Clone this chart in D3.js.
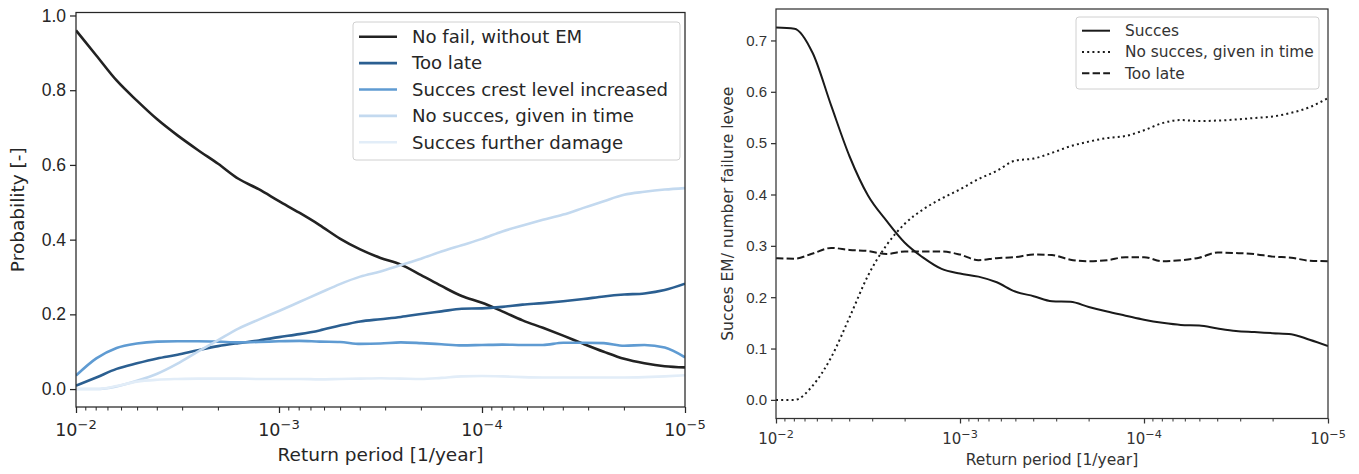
<!DOCTYPE html>
<html>
<head>
<meta charset="utf-8">
<script src="https://cdn.jsdelivr.net/npm/d3@7"></script>
<style>
  body { margin: 0; background: #fff; }
  svg { display: block; font-family: "DejaVu Sans", sans-serif; }
</style>
</head>
<body>
<svg id="chart" width="1359" height="474"></svg>
<script>
// Return period grid, as powers of ten (1/year)
const exponents = [-2.0, -2.1, -2.2, -2.3, -2.4, -2.5, -2.6, -2.7, -2.8, -2.9,
                   -3.0, -3.1, -3.2, -3.3, -3.4, -3.5, -3.6, -3.7, -3.8, -3.9,
                   -4.0, -4.1, -4.2, -4.3, -4.4, -4.5, -4.6, -4.7, -4.8, -4.9, -5.0];

// Left panel: probability of each outcome
const noFailWithoutEM = [0.960, 0.893, 0.826, 0.772, 0.722, 0.679, 0.640, 0.603, 0.563, 0.535,
                         0.503, 0.472, 0.439, 0.403, 0.374, 0.351, 0.333, 0.305, 0.276, 0.249,
                         0.231, 0.208, 0.184, 0.164, 0.143, 0.121, 0.100, 0.081, 0.069, 0.061, 0.058];
const tooLate = [0.009, 0.031, 0.054, 0.069, 0.082, 0.092, 0.104, 0.115, 0.123, 0.130,
                 0.139, 0.147, 0.157, 0.170, 0.181, 0.187, 0.193, 0.201, 0.208, 0.215,
                 0.216, 0.220, 0.226, 0.230, 0.235, 0.241, 0.248, 0.253, 0.256, 0.265, 0.282];
const succesCrestLevel = [0.036, 0.082, 0.110, 0.122, 0.127, 0.128, 0.128, 0.127, 0.125, 0.126,
                          0.128, 0.129, 0.127, 0.126, 0.121, 0.122, 0.125, 0.123, 0.120, 0.117,
                          0.118, 0.119, 0.118, 0.118, 0.124, 0.124, 0.123, 0.116, 0.118, 0.111, 0.085];
const noSuccesInTime = [0.000, 0.000, 0.007, 0.022, 0.041, 0.068, 0.100, 0.131, 0.162, 0.186,
                        0.209, 0.233, 0.257, 0.281, 0.301, 0.315, 0.332, 0.349, 0.368, 0.385,
                        0.402, 0.422, 0.438, 0.453, 0.467, 0.485, 0.503, 0.520, 0.528, 0.534, 0.538];
const succesFurtherDamage = [0.000, 0.000, 0.008, 0.020, 0.025, 0.027, 0.028, 0.028, 0.028, 0.027,
                             0.027, 0.027, 0.026, 0.027, 0.028, 0.029, 0.028, 0.027, 0.030, 0.034,
                             0.035, 0.034, 0.032, 0.031, 0.031, 0.031, 0.031, 0.031, 0.032, 0.034, 0.037];

// Right panel: emergency-measure outcome per levee failure
const succesRatio = [0.725, 0.723, 0.675, 0.573, 0.474, 0.398, 0.349, 0.306, 0.277, 0.255,
                     0.246, 0.240, 0.229, 0.211, 0.202, 0.192, 0.191, 0.181, 0.172, 0.164,
                     0.156, 0.150, 0.146, 0.145, 0.139, 0.134, 0.132, 0.130, 0.128, 0.117, 0.105];
const noSuccesRatio = [0.000, 0.000, 0.028, 0.083, 0.161, 0.242, 0.301, 0.343, 0.371, 0.392,
                       0.410, 0.430, 0.446, 0.466, 0.470, 0.481, 0.494, 0.503, 0.510, 0.514,
                       0.525, 0.539, 0.545, 0.543, 0.544, 0.546, 0.549, 0.552, 0.559, 0.570, 0.588];
const tooLateRatio = [0.276, 0.275, 0.285, 0.296, 0.292, 0.290, 0.284, 0.289, 0.289, 0.289,
                      0.283, 0.272, 0.276, 0.278, 0.283, 0.282, 0.273, 0.270, 0.272, 0.278,
                      0.278, 0.270, 0.272, 0.277, 0.287, 0.286, 0.284, 0.279, 0.277, 0.271, 0.270];

// Axis ticks and labels
const xTickExponents = [-2, -3, -4, -5];
const leftYTicks = [0.0, 0.2, 0.4, 0.6, 0.8, 1.0];
const rightYTicks = [0.0, 0.1, 0.2, 0.3, 0.4, 0.5, 0.6, 0.7];
const leftLabels = ["No fail, without EM", "Too late", "Succes crest level increased",
                    "No succes, given in time", "Succes further damage"];
const rightLabels = ["Succes", "No succes, given in time", "Too late"];

const returnPeriods = exponents.map(e => Math.pow(10, e));
const svg = d3.select("#chart");

function drawPanel(cfg) {
  const x = d3.scaleLog().domain([1e-2, 1e-5]).range([cfg.left, cfg.right]);
  const y = d3.scaleLinear().domain(cfg.yDomain).range([cfg.bottom, cfg.top]);
  const g = svg.append("g");

  const clipId = "clip-" + cfg.id;
  g.append("clipPath").attr("id", clipId)
    .append("rect")
    .attr("x", cfg.left).attr("y", cfg.top)
    .attr("width", cfg.right - cfg.left).attr("height", cfg.bottom - cfg.top);

  // series lines
  const line = d3.line()
    .x((d, i) => x(returnPeriods[i]))
    .y(d => y(d))
    .curve(d3.curveMonotoneX);
  const lines = g.append("g").attr("clip-path", `url(#${clipId})`);
  cfg.series.forEach(s => {
    lines.append("path")
      .datum(s.values)
      .attr("fill", "none")
      .attr("stroke", s.color)
      .attr("stroke-width", s.width)
      .attr("stroke-dasharray", s.dash || null)
      .attr("stroke-linejoin", "round")
      .attr("d", line);
  });

  // frame
  g.append("rect")
    .attr("x", cfg.left).attr("y", cfg.top)
    .attr("width", cfg.right - cfg.left).attr("height", cfg.bottom - cfg.top)
    .attr("fill", "none").attr("stroke", cfg.frameColor).attr("stroke-width", 1.25);

  // y axis
  const yAxis = d3.axisLeft(y).tickValues(cfg.yTicks).tickFormat(d3.format(".1f"))
    .tickSize(cfg.majorTick).tickPadding(cfg.yPad);
  const ya = g.append("g").attr("transform", `translate(${cfg.left},0)`).call(yAxis);
  ya.select(".domain").remove();
  ya.selectAll(".tick line").attr("stroke", cfg.frameColor).attr("stroke-width", 1.25);
  ya.selectAll(".tick text").attr("fill", cfg.textColor)
    .style("font-size", cfg.tickFont + "px").attr("font-family", null);

  // x axis: minor ticks
  const minor = [];
  xTickExponents.slice(0, -1).forEach(e => {
    for (let m = 2; m <= 9; m++) minor.push(m * Math.pow(10, e - 1));
  });
  const xMinor = d3.axisBottom(x).tickValues(minor).tickSize(cfg.minorTick).tickFormat("");
  const xm = g.append("g").attr("transform", `translate(0,${cfg.bottom})`).call(xMinor);
  xm.select(".domain").remove();
  xm.selectAll(".tick line").attr("stroke", cfg.frameColor).attr("stroke-width", 1);

  // x axis: major ticks with 10^n labels
  const xMajor = d3.axisBottom(x).tickValues(xTickExponents.map(e => Math.pow(10, e)))
    .tickSize(cfg.majorTick).tickFormat("");
  const xa = g.append("g").attr("transform", `translate(0,${cfg.bottom})`).call(xMajor);
  xa.select(".domain").remove();
  xa.selectAll(".tick line").attr("stroke", cfg.frameColor).attr("stroke-width", 1.25);
  xTickExponents.forEach(e => {
    const t = g.append("text")
      .attr("x", x(Math.pow(10, e)))
      .attr("y", cfg.xTickBaseline)
      .attr("text-anchor", "middle")
      .attr("fill", cfg.textColor)
      .style("font-size", cfg.tickFont + "px");
    t.append("tspan").text("10");
    t.append("tspan").attr("dy", -cfg.tickFont * 0.42)
      .style("font-size", (cfg.tickFont * 0.75) + "px")
      .text("\u2212" + Math.abs(e));
  });

  // axis titles
  g.append("text")
    .attr("x", (cfg.left + cfg.right) / 2).attr("y", cfg.xLabelBaseline)
    .attr("text-anchor", "middle").attr("fill", cfg.textColor)
    .style("font-size", cfg.labelFont + "px")
    .text("Return period [1/year]");
  g.append("text")
    .attr("transform", `translate(${cfg.yLabelX},${(cfg.top + cfg.bottom) / 2}) rotate(-90)`)
    .attr("text-anchor", "middle").attr("fill", cfg.textColor)
    .style("font-size", cfg.labelFont + "px")
    .text(cfg.yLabel);

  // legend
  const L = cfg.legend;
  const lg = g.append("g");
  lg.append("rect")
    .attr("x", L.x0).attr("y", L.y0)
    .attr("width", L.x1 - L.x0).attr("height", L.y1 - L.y0)
    .attr("rx", 3).attr("ry", 3)
    .attr("fill", "rgba(255,255,255,0.85)").attr("stroke", "#d0d0d0").attr("stroke-width", 1);
  cfg.series.forEach((s, i) => {
    const cy = L.firstRow + i * L.rowStep;
    lg.append("line")
      .attr("x1", L.lineX0).attr("x2", L.lineX1)
      .attr("y1", cy).attr("y2", cy)
      .attr("stroke", s.color).attr("stroke-width", s.width)
      .attr("stroke-dasharray", s.dash || null);
    lg.append("text")
      .attr("x", L.textX).attr("y", cy)
      .attr("dy", "0.35em")
      .attr("fill", cfg.textColor)
      .style("font-size", L.font + "px")
      .text(s.label);
  });
}

drawPanel({
  id: "left",
  left: 76, right: 685, top: 12.5, bottom: 407,
  yDomain: [-0.048, 1.008],
  yTicks: leftYTicks,
  frameColor: "#262626", textColor: "#262626",
  majorTick: 6, minorTick: 3.5, yPad: 4,
  tickFont: 17.5, labelFont: 18.5,
  xTickBaseline: 436, xLabelBaseline: 461, yLabelX: 24,
  yLabel: "Probability [-]",
  series: [
    { label: leftLabels[0], values: noFailWithoutEM, color: "#222222", width: 2.6 },
    { label: leftLabels[1], values: tooLate, color: "#2b5f91", width: 2.6 },
    { label: leftLabels[2], values: succesCrestLevel, color: "#5f9bd2", width: 2.6 },
    { label: leftLabels[3], values: noSuccesInTime, color: "#c3d9ef", width: 2.6 },
    { label: leftLabels[4], values: succesFurtherDamage, color: "#e2edf8", width: 2.6 }
  ],
  legend: { x0: 353, x1: 680, y0: 22, y1: 160, lineX0: 359, lineX1: 397, textX: 412,
            firstRow: 36.7, rowStep: 26.4, font: 18.1 }
});

drawPanel({
  id: "right",
  left: 776, right: 1328, top: 9, bottom: 418.5,
  yDomain: [-0.03625, 0.76125],
  yTicks: rightYTicks,
  frameColor: "#333333", textColor: "#333333",
  majorTick: 5, minorTick: 3, yPad: 4,
  tickFont: 15, labelFont: 15.5,
  xTickBaseline: 444, xLabelBaseline: 465, yLabelX: 733,
  yLabel: "Succes EM/ number failure levee",
  series: [
    { label: rightLabels[0], values: succesRatio, color: "#1a1a1a", width: 2 },
    { label: rightLabels[1], values: noSuccesRatio, color: "#1a1a1a", width: 2, dash: "2,3.2" },
    { label: rightLabels[2], values: tooLateRatio, color: "#1a1a1a", width: 2, dash: "7.4,3.2" }
  ],
  legend: { x0: 1076, x1: 1319, y0: 17, y1: 89, lineX0: 1082, lineX1: 1110, textX: 1125,
            firstRow: 30.7, rowStep: 21.3, font: 15.4 }
});
</script>
</body>
</html>
